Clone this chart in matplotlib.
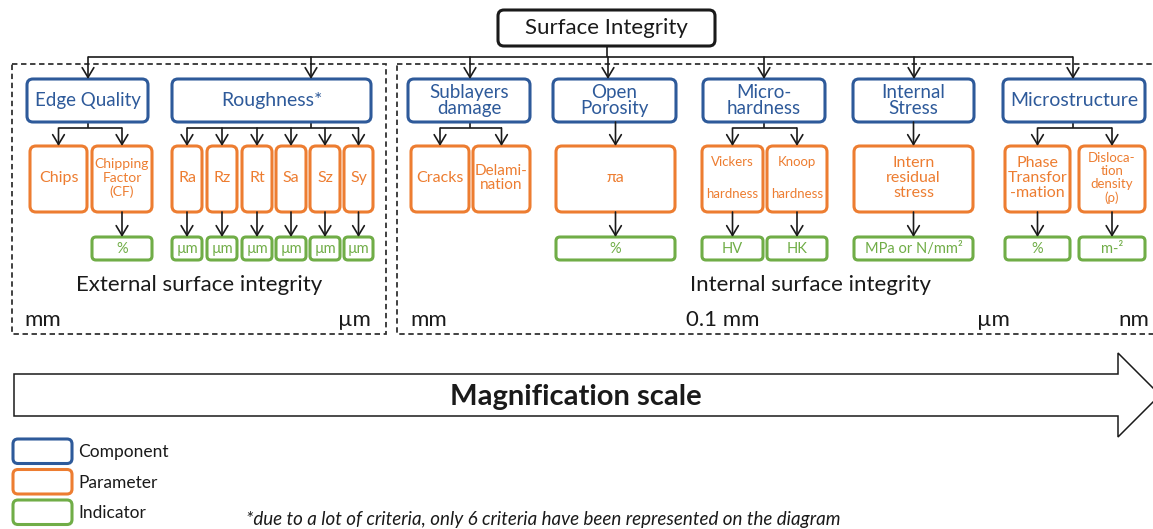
import matplotlib
matplotlib.use('Agg')
import matplotlib.pyplot as plt
from matplotlib.patches import FancyBboxPatch, Rectangle, Polygon

W, H = 1153, 529
BLUE = '#2E5A9A'
ORANGE = '#ED7D31'
GREEN = '#70AD47'
INK = '#1a1a1a'
FONT = 'Lato'

# ---- diagram content ----
root_label = 'Surface Integrity'
comp_labels = ['Edge Quality', 'Roughness*', 'Sublayers\ndamage', 'Open\nPorosity',
               'Micro-\nhardness', 'Internal\nStress', 'Microstructure']
param_labels = ['Chips', 'Chipping\nFactor\n(CF)', 'Ra', 'Rz', 'Rt', 'Sa', 'Sz', 'Sy',
                'Cracks', 'Delami-\nnation', 'πa', 'Vickers\n\n\nhardness', 'Knoop\n\n\nhardness',
                'Intern\nresidual\nstress', 'Phase\nTransfor\n-mation', 'Disloca-\ntion\ndensity\n(ρ)']
param_parent = [0, 0, 1, 1, 1, 1, 1, 1, 2, 2, 3, 4, 4, 5, 6, 6]
ind_labels = ['%', 'µm', 'µm', 'µm', 'µm', 'µm', 'µm', '%', 'HV', 'HK',
              'MPa or N/mm²', '%', 'm-²']
ind_parent = [1, 2, 3, 4, 5, 6, 7, 10, 11, 12, 13, 14, 15]
group_labels = ['External surface integrity', 'Internal surface integrity']
scale_ext = ['mm', 'µm']
scale_int = ['mm', '0.1 mm', 'µm', 'nm']
arrow_label = 'Magnification scale'
legend_labels = ['Component', 'Parameter', 'Indicator']
footnote = '*due to a lot of criteria, only 6 criteria have been represented on the diagram'

# ---- layout (pixels) ----
comp_x = [(27, 148), (172, 371), (408, 530), (553, 676), (703, 825), (853, 974), (1003, 1145)]
comp_join = [88, 311, 470, 608, 764, 914, 1073]
comp_fs = [13.5, 14, 13.5, 13.5, 13.5, 13.5, 14]
param_x = [(30, 87), (92, 152), (172, 202), (207, 237), (242, 272), (276, 306), (310, 340),
           (344, 373), (411, 469), (473, 530), (556, 675), (702, 763), (767, 827),
           (854, 973), (1005, 1070), (1079, 1145)]
param_fs = [11.5, 10, 11.5, 11.5, 11.5, 11.5, 11.5, 11.5, 11.5, 11, 11.5, 9.5, 9.5, 11.5, 11.5, 9.5]
param_ls = [1.0, 1.15, 1, 1, 1, 1, 1, 1, 1.0, 1.05, 1.0, 0.9, 0.9, 1.05, 1.05, 1.12]
root_box = (498, 10, 715, 46)
main_y = 57
comp_y = (79, 122)
sub_y = 128
param_y = (146, 212)
ind_y = (237, 260)

fig = plt.figure(figsize=(W / 100, H / 100), dpi=100)
ax = fig.add_axes([0, 0, 1, 1])
ax.set_xlim(0, W)
ax.set_ylim(H, 0)
ax.axis('off')


def box(x0, y0, x1, y1, color, lw=2.2, r=6):
    ax.add_patch(FancyBboxPatch((x0, y0), x1 - x0, y1 - y0,
                                boxstyle='round,pad=0,rounding_size=%d' % r,
                                fc='white', ec=color, lw=lw, zorder=3))


def arrow(x, y0, y1):
    ax.annotate('', xy=(x, y1), xytext=(x, y0),
                arrowprops=dict(arrowstyle='->,head_length=0.7,head_width=0.42',
                                lw=1.2, color=INK, shrinkA=0, shrinkB=0,
                                mutation_scale=10), zorder=4)


def line(xs, ys):
    ax.plot(xs, ys, color=INK, lw=1.2, solid_capstyle='butt', zorder=2)


# dashed group frames
ax.add_patch(Rectangle((12, 64), 374, 270, fill=False, ls=(0, (3, 2)), lw=1.3, ec='#333333'))
ax.add_patch(Rectangle((397, 64), 770, 270, fill=False, ls=(0, (3, 2)), lw=1.3, ec='#333333'))

# root
x0, y0, x1, y1 = root_box
box(x0, y0, x1, y1, INK, lw=2.2)
ax.text((x0 + x1) / 2, (y0 + y1) / 2, root_label, ha='center', va='center',
        fontsize=16, color=INK, family=FONT, zorder=5)
line([(x0 + x1) / 2] * 2, [y1, main_y])
line([comp_join[0], comp_join[-1]], [main_y, main_y])

# components
for i, lab in enumerate(comp_labels):
    a, b = comp_x[i]
    arrow(comp_join[i], main_y, comp_y[0])
    box(a, comp_y[0], b, comp_y[1], BLUE)
    ax.text((a + b) / 2, (comp_y[0] + comp_y[1]) / 2, lab, ha='center', va='center',
            fontsize=comp_fs[i], color=BLUE, family=FONT, linespacing=0.9, zorder=5)
    kids = [k for k, p in enumerate(param_parent) if p == i]
    centers = [(param_x[k][0] + param_x[k][1]) / 2 for k in kids]
    if len(kids) == 1:
        arrow(centers[0], comp_y[1], param_y[0])
    else:
        line([comp_join[i]] * 2, [comp_y[1], sub_y])
        line([min(centers), max(centers)], [sub_y, sub_y])
        for c in centers:
            arrow(c, sub_y, param_y[0])

# parameters
for k, lab in enumerate(param_labels):
    a, b = param_x[k]
    box(a, param_y[0], b, param_y[1], ORANGE)
    ax.text((a + b) / 2, (param_y[0] + param_y[1]) / 2 - 1, lab, ha='center', va='center',
            fontsize=param_fs[k], color=ORANGE, family=FONT, linespacing=param_ls[k], zorder=5)

# indicators
for j, lab in enumerate(ind_labels):
    a, b = param_x[ind_parent[j]]
    c = (a + b) / 2
    arrow(c, param_y[1], ind_y[0])
    box(a, ind_y[0], b, ind_y[1], GREEN, r=4)
    ax.text(c, (ind_y[0] + ind_y[1]) / 2 + 0.5, lab, ha='center', va='center',
            fontsize=10.5, color=GREEN, family=FONT, zorder=5)

# group captions and scale labels
ax.text(199, 285, group_labels[0], ha='center', va='center', fontsize=16, color=INK, family=FONT)
ax.text(810, 285, group_labels[1], ha='center', va='center', fontsize=16, color=INK, family=FONT)
ax.text(24, 320, scale_ext[0], ha='left', va='center', fontsize=16, color=INK, family=FONT)
ax.text(371, 320, scale_ext[1], ha='right', va='center', fontsize=16, color=INK, family=FONT)
for xx, lab, ha in zip([410, 723, 993, 1134], scale_int, ['left', 'center', 'center', 'center']):
    ax.text(xx, 320, lab, ha=ha, va='center', fontsize=16, color=INK, family=FONT)

# magnification arrow
ax.add_patch(Polygon([(14, 374), (1118, 374), (1118, 353), (1160, 395), (1118, 437),
                      (1118, 416), (14, 416)], closed=True, fc='white', ec=INK, lw=1.1))
ax.text(576, 397, arrow_label, ha='center', va='center', fontsize=21, fontweight='bold',
        color=INK, family=FONT)

# legend
for i, (lab, col) in enumerate(zip(legend_labels, [BLUE, ORANGE, GREEN])):
    yt = 439 + i * 30.5
    box(13, yt, 72, yt + 24.5, col, lw=2.2, r=5)
    ax.text(78, yt + 13, lab, ha='left', va='center', fontsize=12.5, color=INK, family=FONT)

ax.text(246, 519, footnote, ha='left', va='center', fontsize=13.5, style='italic',
        color=INK, family=FONT)

fig.savefig('out.png', dpi=100)
